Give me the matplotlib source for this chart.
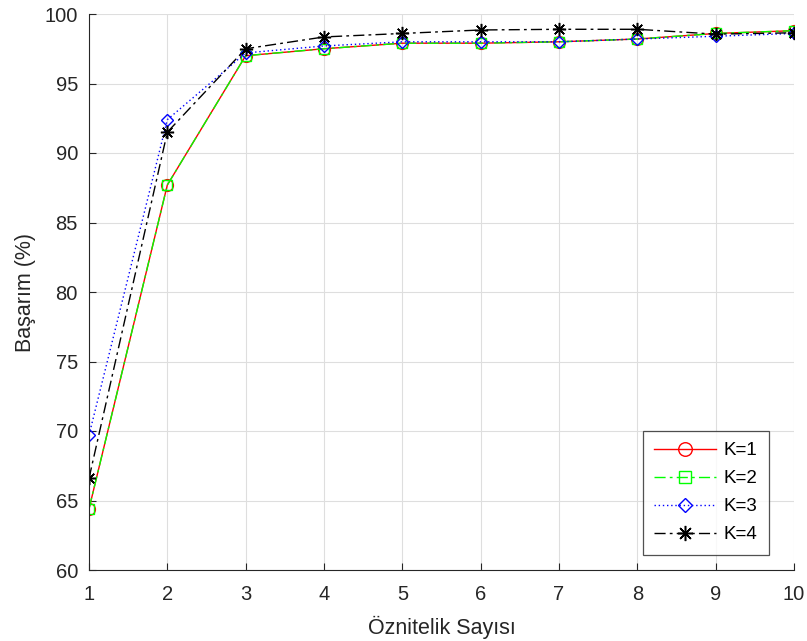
import matplotlib
matplotlib.use("Agg")
import matplotlib.pyplot as plt

plt.rcParams['font.family'] = ['Liberation Sans', 'DejaVu Sans']

x = [1, 2, 3, 4, 5, 6, 7, 8, 9, 10]
k1 = [64.4, 87.7, 97.0, 97.5, 97.9, 97.9, 98.0, 98.2, 98.6, 98.8]
k2 = [64.4, 87.7, 97.0, 97.5, 97.9, 97.9, 98.0, 98.2, 98.6, 98.8]
k3 = [69.7, 92.4, 97.2, 97.7, 98.0, 98.0, 98.0, 98.2, 98.4, 98.6]
k4 = [66.6, 91.5, 97.5, 98.35, 98.6, 98.85, 98.9, 98.9, 98.55, 98.65]
labels = ['K=1', 'K=2', 'K=3', 'K=4']
xticks = list(range(1, 11))
yticks = list(range(60, 101, 5))

fig = plt.figure(figsize=(8.07, 6.41), dpi=100)
ax = fig.add_axes([89/807, 1-570/641, (794-89)/807, (570-14)/641])

ax.plot(x, k1, color='#ff0000', linestyle='-', marker='o', markersize=8.5,
        markerfacecolor='none', markeredgecolor='#ff0000', linewidth=1, label=labels[0])
ax.plot(x, k2, color='#00ff00', linestyle=(0, (8, 3, 2, 3)), marker='s', markersize=7,
        markerfacecolor='none', markeredgecolor='#00ff00', linewidth=1, label=labels[1])
ax.plot(x, k3, color='#0000ff', linestyle=(0, (1, 2)), marker='D', markersize=6.5,
        markerfacecolor='none', markeredgecolor='#0000ff', linewidth=1, label=labels[2])
ax.plot(x, k4, color='black', linestyle=(0, (8, 3, 2, 3)), marker=(8, 2, 0), markersize=9.5,
        markeredgewidth=1.1, linewidth=1, label=labels[3])

ax.set_xlim(1, 10)
ax.set_ylim(60, 100)
ax.set_xticks(xticks)
ax.set_yticks(yticks)
ax.grid(True, color='#dedede', linewidth=0.8)
ax.set_axisbelow(True)
for s in ['top', 'right']:
    ax.spines[s].set_visible(False)
for s in ['left', 'bottom']:
    ax.spines[s].set_color('#262626')
ax.tick_params(direction='in', length=5, labelsize=14.5, colors='#262626')
ax.tick_params(axis='x', pad=11)
ax.tick_params(axis='y', pad=8)
ax.set_xlabel('Öznitelik Sayısı', fontsize=15.5, color='#262626', labelpad=8)
ax.set_ylabel('Başarım (%)', fontsize=15.5, color='#262626', labelpad=6)

leg = ax.legend(loc='upper left', bbox_to_anchor=((643-89)/705, (570-431)/556), fontsize=13.5,
                frameon=True, fancybox=False, edgecolor='#262626', handlelength=3.3,
                handletextpad=0.4, borderpad=0.6, labelspacing=0.58, borderaxespad=0,
                markerscale=1.15)
leg.get_frame().set_linewidth(0.9)

fig.savefig('out.png', dpi=100)
